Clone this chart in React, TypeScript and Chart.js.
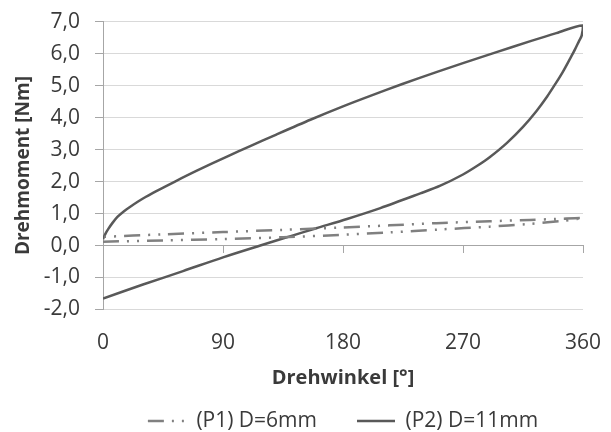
import React, { useEffect, useRef } from "react";
import { Chart, registerables } from "chart.js";

Chart.register(...registerables);

// Axis setup
const xTickValues = [0, 90, 180, 270, 360];
const yTickMin = -2;
const yTickMax = 7;

// (P1) D=6mm : lower branch 0 -> 360, then upper branch 360 -> 0
const p1Angle = [0, 45, 90, 135, 177, 215, 252, 290, 318, 345, 360, 340, 320, 290, 250, 215, 177, 135, 90, 45, 0];
const p1Torque = [0.12, 0.16, 0.2, 0.26, 0.33, 0.41, 0.5, 0.59, 0.67, 0.77, 0.86, 0.83, 0.8, 0.76, 0.7, 0.63, 0.56, 0.49, 0.42, 0.35, 0.27];

// (P2) D=11mm : upper branch 0 -> 360, then lower branch 360 -> 0
const p2Angle = [
  0, 2, 4, 7, 11, 16, 21, 30, 40, 54, 70, 93, 110, 130, 156, 180, 200, 224, 250, 270, 294, 320, 340, 360,
  359, 357, 354, 350, 345, 340, 333, 325, 315, 303, 290, 281, 270, 253, 238, 208, 183, 160, 142, 118, 90, 60, 30, 0,
];
const p2Torque = [
  0.2, 0.38, 0.52, 0.7, 0.9, 1.08, 1.23, 1.47, 1.7, 2.0, 2.33, 2.78, 3.1, 3.47, 3.94, 4.35, 4.67, 5.04, 5.42, 5.7, 6.03, 6.38, 6.64, 6.88,
  6.56, 6.39, 6.13, 5.82, 5.44, 5.1, 4.65, 4.2, 3.71, 3.21, 2.76, 2.5, 2.22, 1.87, 1.63, 1.17, 0.83, 0.54, 0.31, 0.0, -0.37, -0.8, -1.22, -1.66,
];

const seriesLabels = ["(P1) D=6mm", "(P2) D=11mm"];
const xTitle = "Drehwinkel [°]";
const yTitle = "Drehmoment [Nm]";

const toPoints = (xs: number[], ys: number[]) => xs.map((x, i) => ({ x, y: ys[i] }));

const TEXT = "#3a3a3a";
const GRID = "#d9d9d9";
const AXIS = "#a6a6a6";
const FONT = "'Open Sans', sans-serif";

export default function App() {
  const ref = useRef<HTMLCanvasElement | null>(null);

  useEffect(() => {
    if (!ref.current) return;
    Chart.defaults.font.family = FONT;
    Chart.defaults.color = TEXT;

    const chart = new Chart(ref.current, {
      type: "scatter",
      data: {
        datasets: [
          {
            label: seriesLabels[0],
            data: toPoints(p1Angle, p1Torque),
            showLine: true,
            borderColor: "#808080",
            borderWidth: 2.5,
            borderDash: [16, 8, 2, 8, 2, 8],
            pointRadius: 0,
            tension: 0.3,
            fill: false,
          },
          {
            label: seriesLabels[1],
            data: toPoints(p2Angle, p2Torque),
            showLine: true,
            borderColor: "#595959",
            borderWidth: 2.5,
            pointRadius: 0,
            tension: 0.3,
            fill: false,
          },
        ],
      },
      options: {
        responsive: false,
        animation: false,
        layout: { padding: { top: 0, right: 28, left: 0, bottom: -9.5 } },
        plugins: {
          tooltip: { enabled: false },
          legend: {
            position: "bottom",
            fullSize: false,
            labels: {
              usePointStyle: true,
              pointStyleWidth: 38,
              padding: 40,
              color: TEXT,
              font: { size: 21, family: FONT },
              generateLabels: (c: any) =>
                c.data.datasets.map((ds: any, i: number) => ({
                  text: ds.label,
                  fillStyle: "transparent",
                  strokeStyle: ds.borderColor,
                  lineWidth: 2.5,
                  lineDash: ds.borderDash || [],
                  pointStyle: "line",
                  hidden: false,
                  datasetIndex: i,
                  fontColor: TEXT,
                })),
            },
          },
        },
        scales: {
          x: {
            type: "linear",
            position: "bottom",
            min: 0,
            max: 360,
            afterBuildTicks: (s: any) => {
              s.ticks = xTickValues.map((v) => ({ value: v }));
            },
            afterFit: (s: any) => {
              s.height = 61;
            },
            grid: {
              display: true,
              drawOnChartArea: false,
              drawTicks: true,
              tickLength: 21,
              tickColor: "rgba(0,0,0,0)",
              color: "rgba(0,0,0,0)",
            },
            border: { display: false },
            ticks: { padding: 0, color: TEXT, font: { size: 21 }, maxRotation: 0 },
            title: {
              display: true,
              text: xTitle,
              color: TEXT,
              font: { size: 20, weight: "bold" },
              padding: { top: 0, bottom: -19.5 },
            },
          },
          x0: {
            type: "linear",
            axis: "x",
            position: { y: 0 },
            min: 0,
            max: 360,
            afterBuildTicks: (s: any) => {
              s.ticks = xTickValues.map((v) => ({ value: v }));
            },
            ticks: { display: false },
            grid: {
              drawOnChartArea: false,
              drawTicks: true,
              tickLength: 7,
              tickColor: AXIS,
              color: AXIS,
            },
            border: { display: true, color: AXIS, width: 1 },
          },
          y: {
            type: "linear",
            min: yTickMin,
            max: yTickMax,
            afterFit: (s: any) => {
              s.width = 103;
            },
            ticks: {
              stepSize: 1,
              padding: 15,
              color: TEXT,
              font: { size: 21 },
              callback: (v: any) => Number(v).toFixed(1).replace(".", ","),
            },
            grid: {
              color: (ctx: any) => (ctx.tick && ctx.tick.value === 0 ? AXIS : GRID),
              tickColor: AXIS,
              tickLength: 8,
              lineWidth: 1,
            },
            border: { display: true, color: AXIS, width: 1 },
            title: {
              display: true,
              text: yTitle,
              color: TEXT,
              font: { size: 19, weight: "bold" },
              padding: { top: 12.6, bottom: 0 },
            },
          },
        },
      } as any,
    });

    return () => chart.destroy();
  }, []);

  return (
    <div style={{ position: "fixed", left: 0, top: -6, width: 611, height: 438, background: "#fff" }}>
      <canvas ref={ref} width={611} height={438} />
    </div>
  );
}
